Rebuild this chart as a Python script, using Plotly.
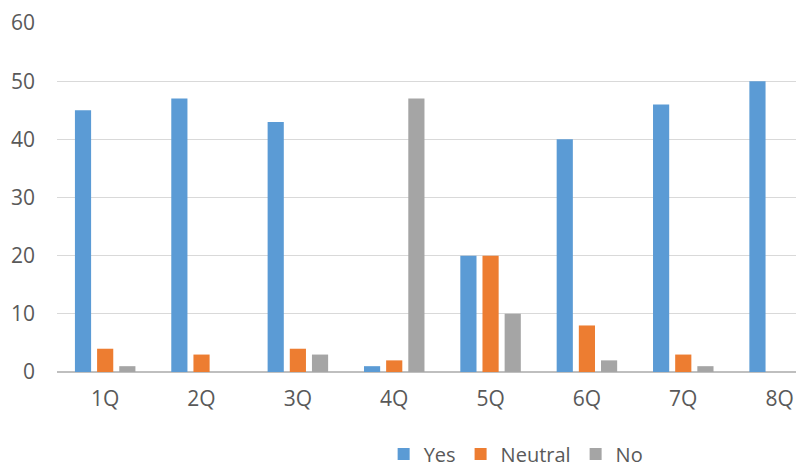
import plotly.graph_objects as go

questions = ["1Q", "2Q", "3Q", "4Q", "5Q", "6Q", "7Q", "8Q"]
yes_counts = [45, 47, 43, 1, 20, 40, 46, 50]
neutral_counts = [4, 3, 4, 2, 20, 8, 3, 0]
no_counts = [1, 0, 3, 47, 10, 2, 1, 0]
y_ticks = [0, 10, 20, 30, 40, 50, 60]

series = [
    ("Yes", yes_counts, "#5B9BD5"),
    ("Neutral", neutral_counts, "#ED7D31"),
    ("No", no_counts, "#A5A5A5"),
]

fig = go.Figure()
for name, vals, color in series:
    fig.add_trace(go.Bar(
        name=name, x=questions, y=vals,
        marker=dict(color=color, line=dict(width=0)),
    ))

font_family = "Open Sans, Liberation Sans, sans-serif"
fig.update_layout(
    width=796, height=468,
    margin=dict(l=57, r=0, t=23, b=96, autoexpand=False),
    paper_bgcolor="white", plot_bgcolor="white",
    barmode="group", bargap=0.31, bargroupgap=0.27,
    font=dict(family=font_family, size=21, color="#595959"),
    showlegend=True,
    legend=dict(
        orientation="h", x=0.442, xanchor="left", y=-0.235, yanchor="middle",
        font=dict(size=20, color="#595959"), itemwidth=30,
        traceorder="normal",
    ),
    xaxis=dict(
        range=[-0.5, 7.17], showgrid=False, showline=False, zeroline=False,
        ticks="", ticklabelstandoff=12, tickfont=dict(size=21, color="#595959"),
    ),
    yaxis=dict(
        range=[0, 60], tickvals=y_ticks, showgrid=True, gridcolor="#D9D9D9",
        gridwidth=1.3, zeroline=True, zerolinecolor="#BFBFBF", zerolinewidth=1.5,
        showline=False, ticks="", ticklabelstandoff=21,
        tickfont=dict(size=21, color="#595959"),
    ),
)

fig.write_html("out.html")
